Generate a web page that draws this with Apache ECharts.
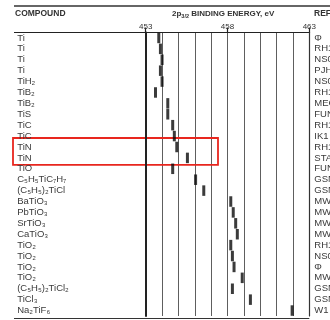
<!DOCTYPE html>
<html><head><meta charset="utf-8">
<script src="https://cdn.jsdelivr.net/npm/echarts@6/dist/echarts.min.js"></script>
<style>html,body{margin:0;padding:0;background:#fff}#c{width:330px;height:320px}</style>
</head><body><div id="c"></div>
<script>
// Ti 2p3/2 binding energies by compound, with reference codes
const compounds = ['Ti','Ti','Ti','Ti','TiH₂','TiB₂','TiB₂','TiS','TiC','TiC','TiN','TiN','TiO',
  'C₅H₅TiC₇H₇','(C₅H₅)₂TiCl','BaTiO₃','PbTiO₃','SrTiO₃','CaTiO₃','TiO₂','TiO₂','TiO₂','TiO₂',
  '(C₅H₅)₂TiCl₂','TiCl₃','Na₂TiF₆'];
const bindingEnergy = [453.8,453.9,454.0,453.9,454.0,453.6,454.35,454.35,454.65,454.75,454.9,455.55,454.65,
  456.05,456.55,458.2,458.35,458.5,458.6,458.2,458.3,458.4,458.9,458.3,459.4,461.95];
const refs = ['Φ','RH1','NS0','PJH','NS0','RH1','MEC','FUN','RH1','IK1','RH1','STA','FUN',
  'GSN','GSN','MW','MW','MW','MW','RH1','NS0','Φ','MW','GSN','GSN','W1'];
const energyTicks = [453, 458, 463];
const highlightRows = [10, 11];

const FONT = '"Liberation Sans", Arial, sans-serif';
const chart = echarts.init(document.getElementById('c'), null, {renderer: 'canvas'});

const GRID = {left: 145.7, right: 20.7, top: 32.5, bottom: 4};
const axisMin = energyTicks[0], axisMax = energyTicks[energyTicks.length - 1];

chart.setOption({
  animation: false,
  backgroundColor: '#fff',
  grid: Object.assign({containLabel: false, outerBoundsMode: 'none'}, GRID),
  xAxis: [
    { type: 'value', min: axisMin, max: axisMax, interval: 1, position: 'top',
      axisLine: {show: false}, axisTick: {show: false}, axisLabel: {show: false},
      splitLine: {show: true, lineStyle: {color: '#5e5e5e', width: 1}} },
    { type: 'value', min: axisMin, max: axisMax, interval: 5, position: 'top',
      axisLine: {show: false}, splitLine: {show: false},
      axisTick: {show: true, length: 5, lineStyle: {color: '#222', width: 1.2}},
      axisLabel: {show: true, margin: 2, fontSize: 8, color: '#333', fontFamily: FONT,
        formatter: v => energyTicks.includes(v) ? String(v) : ''} }
  ],
  yAxis: [
    { type: 'category', data: compounds, inverse: true, position: 'left',
      axisLine: {show: true, lineStyle: {color: '#222', width: 2}},
      axisTick: {show: false}, splitLine: {show: false},
      axisLabel: {interval: 0, align: 'left', margin: 128.5, fontSize: 9.5, color: '#3a3a3a', fontFamily: FONT} },
    { type: 'category', data: refs, inverse: true, position: 'right',
      axisLine: {show: true, lineStyle: {color: '#333', width: 1.2}},
      axisTick: {show: false}, splitLine: {show: false},
      axisLabel: {interval: 0, align: 'left', margin: 5, fontSize: 9.5, color: '#3a3a3a', fontFamily: FONT} }
  ],
  series: [{
    type: 'scatter', xAxisIndex: 0, yAxisIndex: 0,
    symbol: 'rect', symbolSize: [3, 10.5],
    itemStyle: {color: '#0a0a0a'},
    data: bindingEnergy.map((v, i) => [v, i])
  }]
});

// table rules, headers and the highlight box
const top0 = chart.convertToPixel({yAxisIndex: 0}, highlightRows[0]);
const top1 = chart.convertToPixel({yAxisIndex: 0}, highlightRows[1]);
const rightEdge = 330 - GRID.right;
chart.setOption({
  graphic: [
    {type: 'line', shape: {x1: 14, y1: 6, x2: 330, y2: 6}, style: {stroke: '#333', lineWidth: 1.5}},
    {type: 'line', shape: {x1: 14, y1: 32.5, x2: rightEdge, y2: 32.5}, style: {stroke: '#222', lineWidth: 1.2}},
    {type: 'line', shape: {x1: 14, y1: 318.5, x2: rightEdge, y2: 318.5}, style: {stroke: '#333', lineWidth: 1}},
    {type: 'text', x: 15, y: 14, style: {text: 'COMPOUND', font: 'bold 8.5px ' + FONT, fill: '#333', textVerticalAlign: 'middle'}},
    {type: 'text', x: 172, y: 14, style: {
      text: '2p{s|3/2} BINDING ENERGY, eV', font: 'bold 8px ' + FONT, fill: '#333', textVerticalAlign: 'middle',
      rich: {s: {fontSize: 5.5, fontWeight: 'bold', fontFamily: FONT, fill: '#333', padding: [4, 0, 0, 0]}}}},
    {type: 'text', x: 314, y: 14, style: {text: 'REF', font: 'bold 8.5px ' + FONT, fill: '#333', textVerticalAlign: 'middle'}},
    {type: 'rect', shape: {x: 13, y: top0 - 9, width: 205, height: (top1 - top0) + 16},
      style: {fill: 'none', stroke: '#e8261e', lineWidth: 1.8}}
  ]
});
</script>
</body></html>
